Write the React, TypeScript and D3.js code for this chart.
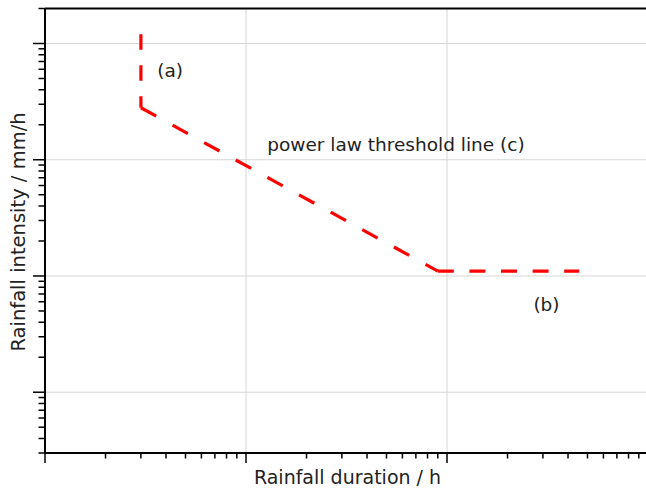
import React from "react";
import * as d3 from "d3";

// Threshold line vertices (duration h, intensity mm/h)
const durations = [3, 3, 90, 455];
const intensities = [1200, 280, 11, 11];

// Axis decades (no labels shown in the reference)
const xDecades = [1, 10, 100, 1000];
const yDecades = [0.1, 1, 10, 100, 1000];

const annotations = [
  { text: "(a)", x: 3.62, y: 518 },
  { text: "power law threshold line (c)", x: 12.76, y: 119 },
  { text: "(b)", x: 269, y: 5.03 },
];

const W = 646;
const H = 490;
const left = 45;
const top = 8.5;
const bottom = 453;
const right = 648;

export default function App() {
  const x = d3.scaleLog().domain([1, 1000]).range([left, right]);
  const y = d3.scaleLog().domain([0.3, 2000]).range([bottom, top]);

  const xMinor: number[] = [];
  xDecades.forEach((d) => {
    for (let m = 1; m <= 9; m++) {
      const v = d * m;
      if (v >= 1 && v <= 1000) xMinor.push(v);
    }
  });
  const yMinor: number[] = [];
  yDecades.forEach((d) => {
    for (let m = 1; m <= 9; m++) {
      const v = d * m;
      if (v >= 0.3 && v <= 2000) yMinor.push(v);
    }
  });
  const isMajor = (v: number) => Math.abs(Math.log10(v) - Math.round(Math.log10(v))) < 1e-9;

  const line = d3
    .line<number>()
    .x((i) => x(durations[i]))
    .y((i) => y(intensities[i]));

  const segs = [
    { idx: [0, 1], dash: "15.5,15.5" },
    { idx: [1, 2], dash: "17.5,18.6" },
    { idx: [2, 3], dash: "16,15.6" },
  ];

  const font = "'DejaVu Sans', Verdana, sans-serif";

  return (
    <svg
      width={W}
      height={H}
      style={{ position: "absolute", left: 0, top: 0, background: "#fff" }}
    >
      <rect x={0} y={0} width={W} height={H} fill="#fff" />
      {/* grid */}
      {xDecades
        .filter((v) => v > 1 && v < 1000)
        .map((v) => (
          <line key={"gx" + v} x1={x(v)} x2={x(v)} y1={top} y2={bottom} stroke="#d6d6d6" strokeWidth={1} />
        ))}
      {yDecades
        .filter((v) => v >= 0.3 && v <= 2000)
        .map((v) => (
          <line key={"gy" + v} x1={left} x2={right} y1={y(v)} y2={y(v)} stroke="#d6d6d6" strokeWidth={1} />
        ))}

      {/* threshold line */}
      {segs.map((s, k) => (
        <path
          key={"s" + k}
          d={line(s.idx) || ""}
          fill="none"
          stroke="#ff0000"
          strokeWidth={3.2}
          strokeDasharray={s.dash}
        />
      ))}

      {/* frame */}
      <line x1={left} x2={right} y1={top} y2={top} stroke="#000" strokeWidth={2} />
      <line x1={left} x2={left} y1={top} y2={bottom} stroke="#000" strokeWidth={2} />
      <line x1={left} x2={right} y1={bottom} y2={bottom} stroke="#000" strokeWidth={2} />

      {/* ticks */}
      {xMinor.map((v) => (
        <line
          key={"tx" + v}
          x1={x(v)}
          x2={x(v)}
          y1={bottom}
          y2={bottom + (isMajor(v) ? 10 : 5.5)}
          stroke="#000"
          strokeWidth={1.5}
        />
      ))}
      {yMinor.map((v) => (
        <line
          key={"ty" + v}
          x1={left}
          x2={left - (isMajor(v) ? 12 : 6.5)}
          y1={y(v)}
          y2={y(v)}
          stroke="#000"
          strokeWidth={1.5}
        />
      ))}

      {/* annotations */}
      {annotations.map((a) => (
        <text
          key={a.text}
          x={x(a.x)}
          y={y(a.y)}
          fontFamily={font}
          fontSize={18.5}
          fill="#222"
        >
          {a.text}
        </text>
      ))}

      {/* axis titles */}
      <text
        x={347.5}
        y={484}
        textAnchor="middle"
        fontFamily={font}
        fontSize={19}
        fill="#222"
      >
        Rainfall duration / h
      </text>
      <text
        transform={`translate(25,232) rotate(-90)`}
        textAnchor="middle"
        fontFamily={font}
        fontSize={19.5}
        fill="#222"
      >
        Rainfall intensity / mm/h
      </text>
    </svg>
  );
}
